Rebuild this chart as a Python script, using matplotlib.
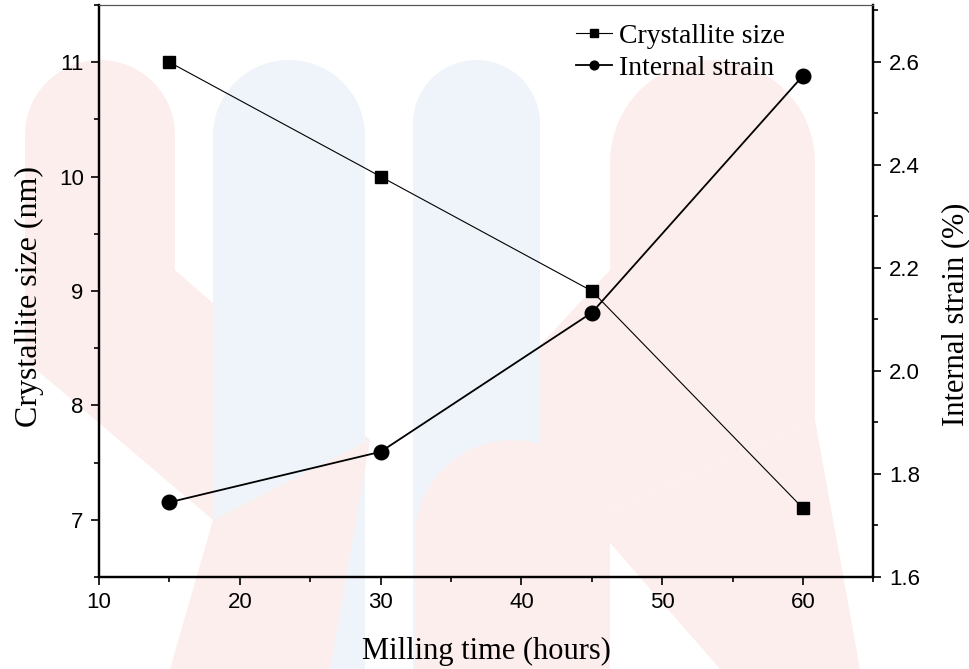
import matplotlib
matplotlib.use("Agg")
import matplotlib.pyplot as plt
from matplotlib.patches import Polygon
from matplotlib.ticker import MultipleLocator
import numpy as np

# ---- data ----
milling_time = [15, 30, 45, 60]
crystallite_size = [11.0, 10.0, 9.0, 7.1]
internal_strain = [1.745, 1.843, 2.113, 2.573]
x_ticks = [10, 20, 30, 40, 50, 60]
size_ticks = [7, 8, 9, 10, 11]
strain_ticks = [1.6, 1.8, 2.0, 2.2, 2.4, 2.6]

plt.rcParams["font.family"] = ["Liberation Sans", "DejaVu Sans"]

W, H = 970, 669
fig = plt.figure(figsize=(W / 100, H / 100), dpi=100)
fig.patch.set_facecolor("white")

# ---- faint background watermark (approximate) ----
PINK = "#fdeeee"
BLUE = "#eef4f9"

def P(pts):
    return [(x / W, 1 - y / H) for x, y in pts]

def rounded_bar(x0, x1, ytop, ybot, color, z):
    r = (x1 - x0) / 2
    th = np.linspace(np.pi, 0, 40)
    arc = [(x0 + r + r * np.cos(t), ytop + r - r * np.sin(t)) for t in th]
    pts = arc + [(x1, ybot), (x0, ybot)]
    fig.patches.append(Polygon(P(pts), closed=True, transform=fig.transFigure,
                               facecolor=color, edgecolor="none", zorder=z))

def poly(pts, color, z):
    fig.patches.append(Polygon(P(pts), closed=True, transform=fig.transFigure,
                               facecolor=color, edgecolor="none", zorder=z))

rounded_bar(25, 175, 60, 300, PINK, 0)
poly([(25, 280), (175, 270), (370, 440), (213, 520), (25, 360)], PINK, 0)
rounded_bar(610, 815, 60, 400, PINK, 0)
poly([(610, 270), (815, 380), (815, 420), (590, 520), (415, 480)], PINK, 0)
rounded_bar(213, 365, 60, 669, BLUE, 0.5)
rounded_bar(413, 540, 60, 669, BLUE, 0.5)
poly([(213, 520), (370, 440), (330, 669), (170, 669)], PINK, 0.7)
rounded_bar(415, 610, 440, 669, PINK, 0.7)
poly([(590, 520), (815, 420), (860, 669), (720, 669)], PINK, 0.7)

# ---- axes ----
ax = fig.add_axes([99 / W, 1 - 577 / H, (873.5 - 99) / W, (577 - 5) / H])
ax.set_zorder(5)
ax.patch.set_visible(False)
ax2 = ax.twinx()
ax2.set_zorder(6)
ax2.patch.set_visible(False)

ax.plot(milling_time, crystallite_size, color="black", lw=0.8,
        marker="s", ms=9, mfc="black", mec="black", zorder=3,
        label="Crystallite size")
ax2.plot(milling_time, internal_strain, color="black", lw=1.3,
         marker="o", ms=10.5, mfc="black", mec="black", zorder=3,
         label="Internal strain")

ax.set_xlim(10, 65)
ax.set_ylim(6.5, 11.5)
ax2.set_ylim(1.6, 2.71)

ax.set_xticks(x_ticks)
ax.set_yticks(size_ticks)
ax2.set_yticks(strain_ticks)
ax2.set_yticklabels([f"{v:.1f}" for v in strain_ticks])
ax.xaxis.set_minor_locator(MultipleLocator(5))
ax.yaxis.set_minor_locator(MultipleLocator(0.5))
ax2.yaxis.set_minor_locator(MultipleLocator(0.1))

for a in (ax, ax2):
    a.tick_params(which="major", direction="out", length=6, width=1.2,
                  labelsize=16, pad=5, colors="black")
    a.tick_params(which="minor", direction="out", length=3.5, width=1.2)
ax.tick_params(axis="x", which="both", top=False)
ax2.tick_params(axis="x", which="both", top=False)

for a in (ax, ax2):
    a.spines["left"].set_linewidth(1.6)
    a.spines["bottom"].set_linewidth(1.6)
    a.spines["right"].set_linewidth(1.6)
    a.spines["top"].set_linewidth(0.8)
    a.spines["top"].set_color("#555555")

serif = "Liberation Serif"
ax.set_xlabel("Milling time (hours)", family=serif, fontsize=22, labelpad=17)
ax.set_ylabel("Crystallite size (nm)", family=serif, fontsize=23)
ax2.set_ylabel("Internal strain (%)", family=serif, fontsize=22)
ax.yaxis.set_label_coords(-0.071, 0.49)
ax2.yaxis.set_label_coords(1.087, 0.46)

h1, l1 = ax.get_legend_handles_labels()
h2, l2 = ax2.get_legend_handles_labels()
leg = ax2.legend(h1 + h2, l1 + l2, loc="upper right",
                 bbox_to_anchor=(0.918, 1.012), frameon=False,
                 prop={"family": serif, "size": 20}, handlelength=1.3,
                 handletextpad=0.25, markerscale=0.6, labelspacing=0.25)

fig.savefig("out.png", dpi=100, facecolor="white")
